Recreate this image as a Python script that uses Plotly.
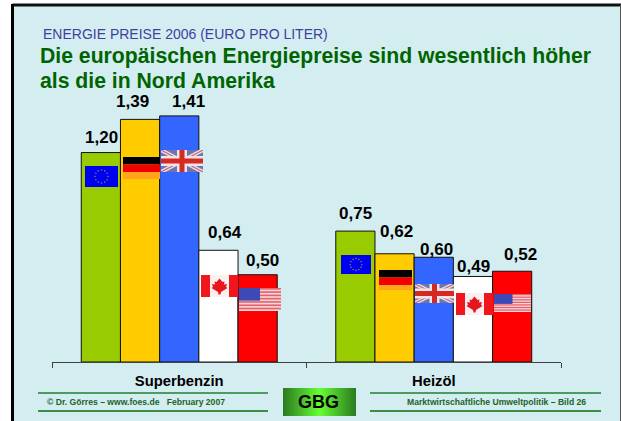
import base64
import math
import plotly.graph_objects as go

W, H = 621, 421
ML, MR, MT, MB = 52, 60, 96, 59
PW, PH = W - ML - MR, H - MT - MB

categories = ["Superbenzin", "Heizöl"]
countries = ["EU", "Deutschland", "Großbritannien", "Kanada", "USA"]
colors = ["#99CC00", "#FFCC00", "#3366FF", "#FFFFFF", "#FF0000"]
values = {
    "EU": [1.20, 0.75],
    "Deutschland": [1.39, 0.62],
    "Großbritannien": [1.41, 0.60],
    "Kanada": [0.64, 0.49],
    "USA": [0.50, 0.52],
}
labels = {
    "EU": ["1,20", "0,75"],
    "Deutschland": ["1,39", "0,62"],
    "Großbritannien": ["1,41", "0,60"],
    "Kanada": ["0,64", "0,49"],
    "USA": ["0,50", "0,52"],
}
label_pos = {
    "EU": [(101, 137), (355, 214)],
    "Deutschland": [(132, 101), (396, 231)],
    "Großbritannien": [(188, 101), (436, 249)],
    "Kanada": [(225, 232), (473, 266)],
    "USA": [(262, 260), (520, 254)],
}
kicker = "ENERGIE PREISE 2006 (EURO PRO LITER)"
title_lines = ["Die europäischen Energiepreise sind wesentlich höher", "als die in Nord Amerika"]
footer_left = "© Dr. Görres – www.foes.de   February 2007"
footer_right = "Marktwirtschaftliche Umweltpolitik – Bild 26"


def px(x):
    return (x - ML) / PW


def py(y):
    return 1 - (y - MT) / PH


def uri(svg):
    return "data:image/svg+xml;base64," + base64.b64encode(svg.encode()).decode()


def wrap(w, h, body, blur=0.35):
    return uri(f'<svg xmlns="http://www.w3.org/2000/svg" width="{w}" height="{h}" viewBox="0 0 {w} {h}">'
               f'<defs><filter id="b" x="0" y="0" width="1" height="1"><feGaussianBlur stdDeviation="{blur}"/></filter></defs>'
               f'<g filter="url(#b)">{body}</g></svg>')


def eu(w=33, h=21):
    r = 0.31 * h
    d = "".join(f'<circle cx="{w/2+r*math.sin(i*math.pi/6):.1f}" cy="{h/2+r*math.cos(i*math.pi/6):.1f}" r="0.8" fill="#7d7d5a"/>' for i in range(12))
    return wrap(w, h, f'<rect width="{w}" height="{h}" fill="#0000F0"/>{d}', 0.1)


def de(w=37, h=22):
    return wrap(w, h, f'<rect width="{w}" height="7.5" fill="#000"/><rect y="7.5" width="{w}" height="7.5" fill="#F00000"/><rect y="15" width="{w}" height="7" fill="#FFA51E"/>', 0.2)


def uk(w=42, h=22):
    b = (f'<rect width="{w}" height="{h}" fill="#6A74B4"/>'
         f'<path d="M0 0L{w} {h}M{w} 0L0 {h}" stroke="#EADCE0" stroke-width="4"/>'
         f'<path d="M0 0L{w} {h}M{w} 0L0 {h}" stroke="#D06070" stroke-width="1.2"/>'
         f'<rect x="{w/2-5}" width="10" height="{h}" fill="#F0E4E4"/><rect y="{h/2-5}" width="{w}" height="10" fill="#F0E4E4"/>'
         f'<rect x="{w/2-2.5}" width="5" height="{h}" fill="#D42A20"/><rect y="{h/2-2.5}" width="{w}" height="5" fill="#D42A20"/>')
    return wrap(w, h, b, 0.7)


def ca(w=37, h=22):
    c = w / 2
    leaf = (f'M{c} 3.5 L{c+3} 7 L{c+5} 6.5 L{c+4.5} 9.5 L{c+7.5} 9 L{c+6.5} 12 L{c+8} 13 L{c+1.5} 17 L{c+1} 19.5 L{c-1} 19.5 '
            f'L{c-1.5} 17 L{c-8} 13 L{c-6.5} 12 L{c-7.5} 9 L{c-4.5} 9.5 L{c-5} 6.5 L{c-3} 7 Z')
    b = (f'<rect width="{w}" height="{h}" fill="#FBF0F0"/><rect width="9" height="{h}" fill="#F0141E"/>'
         f'<rect x="{w-9}" width="9" height="{h}" fill="#F0141E"/><path d="{leaf}" fill="#E8141E"/>')
    return wrap(w, h, b, 0.45)


def us(w=42, h=23):
    s = "".join(f'<rect y="{i*h/7:.2f}" width="{w}" height="{h/14:.2f}" fill="#E8606A"/>' for i in range(7))
    b = f'<rect width="{w}" height="{h}" fill="#F4D8DC"/>{s}<rect width="{w/2}" height="{h*0.55}" fill="#3C48B4"/>'
    return wrap(w, h, b, 0.4)


def gbg():
    return uri('<svg xmlns="http://www.w3.org/2000/svg" width="73" height="28"><defs><linearGradient id="g">'
               '<stop offset="0" stop-color="#2A7A1F"/><stop offset=".5" stop-color="#66FF33"/><stop offset="1" stop-color="#2A7A1F"/>'
               '</linearGradient></defs><rect width="73" height="28" fill="url(#g)"/></svg>')


def img(src, x, y, w, h):
    return dict(source=src, xref="paper", yref="paper", x=px(x), y=py(y), sizex=w / PW, sizey=h / PH,
                xanchor="left", yanchor="top", sizing="stretch", layer="above")


fig = go.Figure()
for c, col in zip(countries, colors):
    fig.add_bar(x=categories, y=values[c], name=c, marker=dict(color=col, line=dict(color="#111", width=1)),
                cliponaxis=False, showlegend=False)

images = [
    img(eu(33, 21), 85, 166, 33, 21), img(de(37, 22), 123, 157, 37, 22), img(uk(42, 22), 161, 150, 42, 22),
    img(ca(37, 22), 201, 275, 37, 22), img(us(42, 23), 239, 288, 42, 23),
    img(eu(30, 19), 341, 255, 30, 19), img(de(33, 20), 379, 270, 33, 20), img(uk(39, 19), 415, 284, 39, 19),
    img(ca(37, 22), 456, 293, 37, 22), img(us(37, 18), 494, 294, 37, 18),
    img(gbg(), 283, 388, 73, 28),
]


def line(x0, x1, y0, y1, color, width):
    return dict(type="line", xref="paper", yref="paper", x0=px(x0), x1=px(x1), y0=py(y0), y1=py(y1),
                layer="below", line=dict(color=color, width=width))


shapes = [
    dict(type="rect", xref="paper", yref="paper", x0=px(13), x1=px(621), y0=py(5), y1=py(421), layer="below",
         fillcolor="#D4EDF1", line=dict(width=0)),
    line(12.5, 621, 5, 5, "#111", 3),
    line(12.5, 12.5, 4, 421, "#000", 3),
    line(620.5, 620.5, 5, 421, "#555", 1),
    line(38, 268, 393, 393, "#1F7F2F", 1.5),
    line(38, 268, 411, 411, "#0A6E0A", 1.5),
    line(370, 601, 393, 393, "#1F7F2F", 1.5),
    line(370, 601, 411, 411, "#0A6E0A", 1.5),
]


def note(text, x, y, size, color, anchor="left", bold=True):
    return dict(text=text, xref="paper", yref="paper", x=px(x), y=py(y), xanchor=anchor, yanchor="middle",
                showarrow=False, font=dict(family="Liberation Sans", size=size, color=color,
                                           weight="bold" if bold else "normal"))


annotations = [
    note(kicker, 41, 34, 14, "#3F3FA0", bold=False),
    note(title_lines[0], 38, 56, 21.2, "#006400"),
    note(title_lines[1], 38, 80, 21.2, "#006400"),
    note("GBG", 318.5, 402, 18, "#000", "center"),
    note(footer_left, 45, 402, 8.6, "#1A6428"),
    note(footer_right, 405, 402, 8.6, "#1A6428"),
]
for c in countries:
    for txt, (lx, ly) in zip(labels[c], label_pos[c]):
        annotations.append(note(txt, lx, ly, 17, "#000", "center"))

fig.update_layout(
    width=W, height=H, autosize=False, paper_bgcolor="#FFFFFF", plot_bgcolor="rgba(0,0,0,0)",
    margin=dict(l=ML, r=MR, t=MT, b=MB, autoexpand=False), barmode="group", bargap=0.23, bargroupgap=0,
    shapes=shapes, images=images, annotations=annotations,
    xaxis=dict(showline=True, linecolor="#404040", linewidth=1, ticks="outside", ticklen=5, tickcolor="#404040",
               tickson="boundaries", showgrid=False, ticklabelstandoff=5,
               tickfont=dict(family="Liberation Sans", size=14.8, color="#000", weight="bold")),
    yaxis=dict(range=[0, 1.524], visible=False, showgrid=False),
)
fig.write_html("out.html", config={"displayModeBar": False},
               post_script="document.body.style.margin='0';document.documentElement.style.overflow='hidden';")
